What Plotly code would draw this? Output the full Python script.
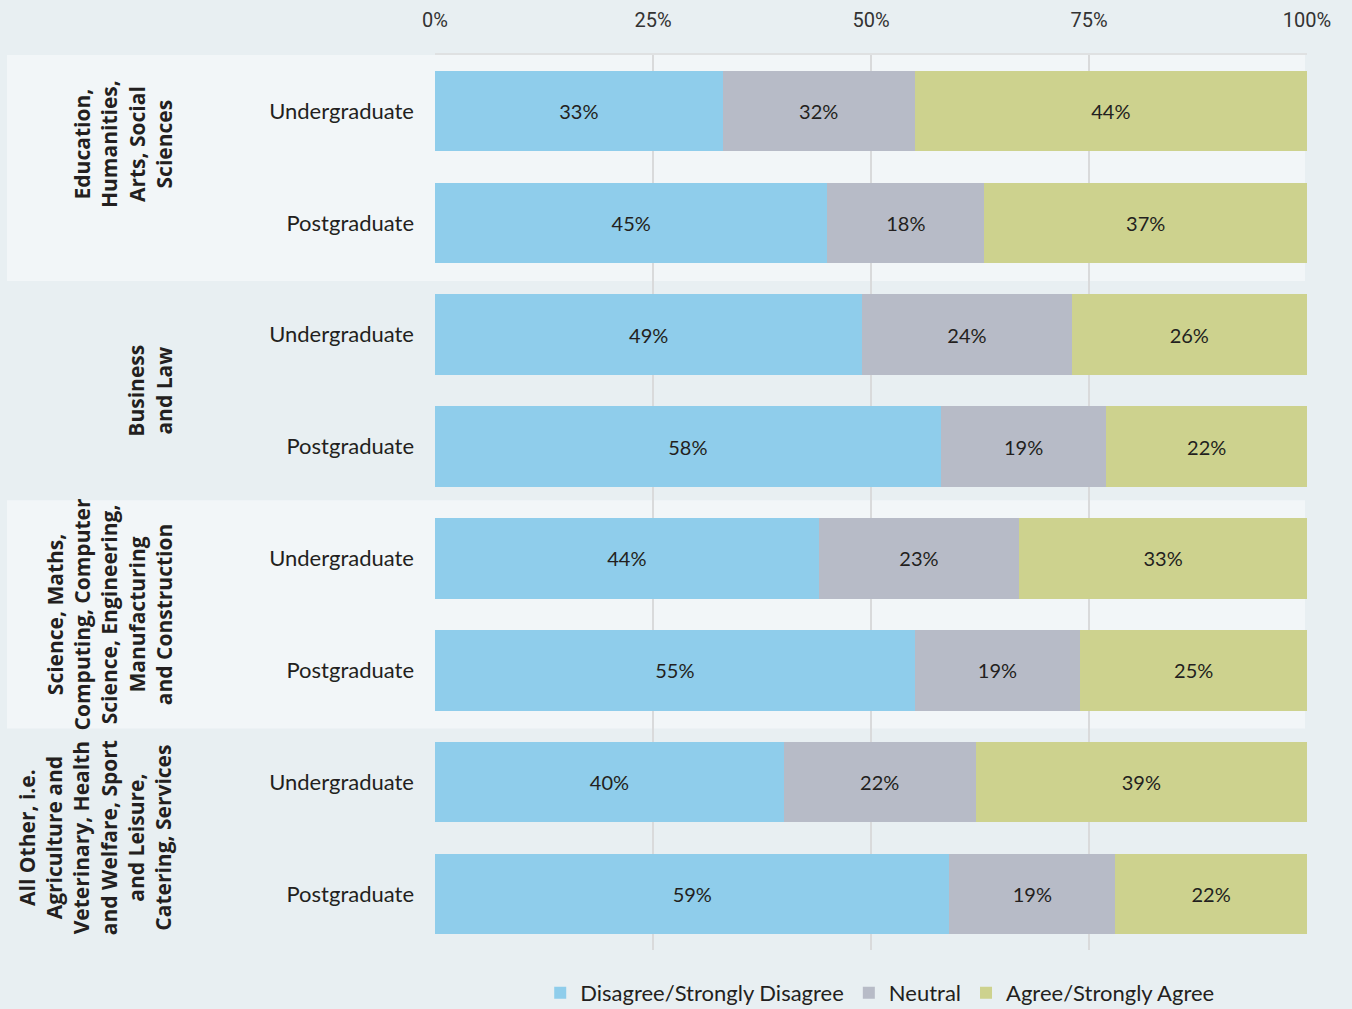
import plotly.graph_objects as go

levels = ["Undergraduate", "Postgraduate"] * 4
groups = ["Education,<br>Humanities,<br>Arts, Social<br>Sciences",
          "Business<br>and Law",
          "Science, Maths,<br>Computing, Computer<br>Science, Engineering,<br>Manufacturing<br>and Construction",
          "All Other, i.e.<br>Agriculture and<br>Veterinary, Health<br>and Welfare, Sport<br>and Leisure,<br>Catering, Services"]

# bar widths as drawn
disagree = [33, 45, 49, 58, 44, 55, 40, 59]
neutral = [22, 18, 24, 19, 23, 19, 22, 19]
agree = [45, 37, 27, 23, 33, 26, 38, 22]
# printed labels
disagree_lbl = ["33%", "45%", "49%", "58%", "44%", "55%", "40%", "59%"]
neutral_lbl = ["32%", "18%", "24%", "19%", "23%", "19%", "22%", "19%"]
agree_lbl = ["44%", "37%", "26%", "22%", "33%", "25%", "39%", "22%"]

series = [("Disagree/Strongly Disagree", disagree, disagree_lbl, "#8fcdeb"),
          ("Neutral", neutral, neutral_lbl, "#b7bbc7"),
          ("Agree/Strongly Agree", agree, agree_lbl, "#cdd28e")]

ypos = list(range(len(levels)))
txtcol = "#231f20"

fig = go.Figure()
for name, vals, lbls, col in series:
    fig.add_trace(go.Bar(
        y=ypos, x=vals, name=name, orientation="h",
        marker=dict(color=col, line=dict(width=0)),
        text=lbls, textposition="inside", insidetextanchor="middle",
        textangle=0, insidetextfont=dict(size=20, color=txtcol),
        width=0.72,
    ))

# light bands behind groups 1 and 3
for y0, y1 in [(-0.5, 1.5), (3.5, 5.5)]:
    fig.add_shape(type="rect", xref="paper", yref="y",
                  x0=-0.4908, x1=0.9977, y0=y0 - 0.02, y1=y1 + 0.02,
                  fillcolor="#f2f6f8", line=dict(width=0), layer="below")

# group labels
for g, yc in zip(groups, [0.3, 2.5, 4.5, 6.5]):
    fig.add_annotation(text="<b>" + g + "</b>", xref="paper", yref="y",
                       x=-0.293, y=yc, xanchor="right", yanchor="middle",
                       textangle=-90, align="center", showarrow=False,
                       font=dict(size=21, color=txtcol, family="Open Sans"))

fig.update_layout(
    width=1352, height=1009,
    barmode="stack",
    paper_bgcolor="#e8eff2",
    plot_bgcolor="rgba(0,0,0,0)",
    margin=dict(l=435, r=45, t=55, b=59, autoexpand=False),
    font=dict(family="Lato", color=txtcol),
    bargap=0.28,
    showlegend=True,
    legend=dict(orientation="h", x=0.51, xanchor="center",
                yref="container", y=0.016, yanchor="middle",
                font=dict(size=22, color=txtcol),
                traceorder="normal", itemwidth=30),
    xaxis=dict(side="top", range=[0, 100], tickvals=[0, 25, 50, 75, 100],
               ticktext=["0%", "25%", "50%", "75%", "100%"],
               showgrid=True, gridcolor="#d9dadb", gridwidth=2,
               zeroline=False, showline=True, linecolor="#dfe1e2", linewidth=2,
               ticks="", ticklabelstandoff=18,
               tickfont=dict(size=20, color="#333333", family="Roboto")),
    yaxis=dict(range=[7.5, -0.5], tickvals=ypos, ticktext=levels,
               showgrid=False, zeroline=False, ticks="", ticklabelstandoff=20,
               tickfont=dict(size=22, color=txtcol)),
)

fig.write_html("out.html", config={"displayModeBar": False},
               post_script="document.body.style.margin='0';document.body.style.background='#e8eff2';")
